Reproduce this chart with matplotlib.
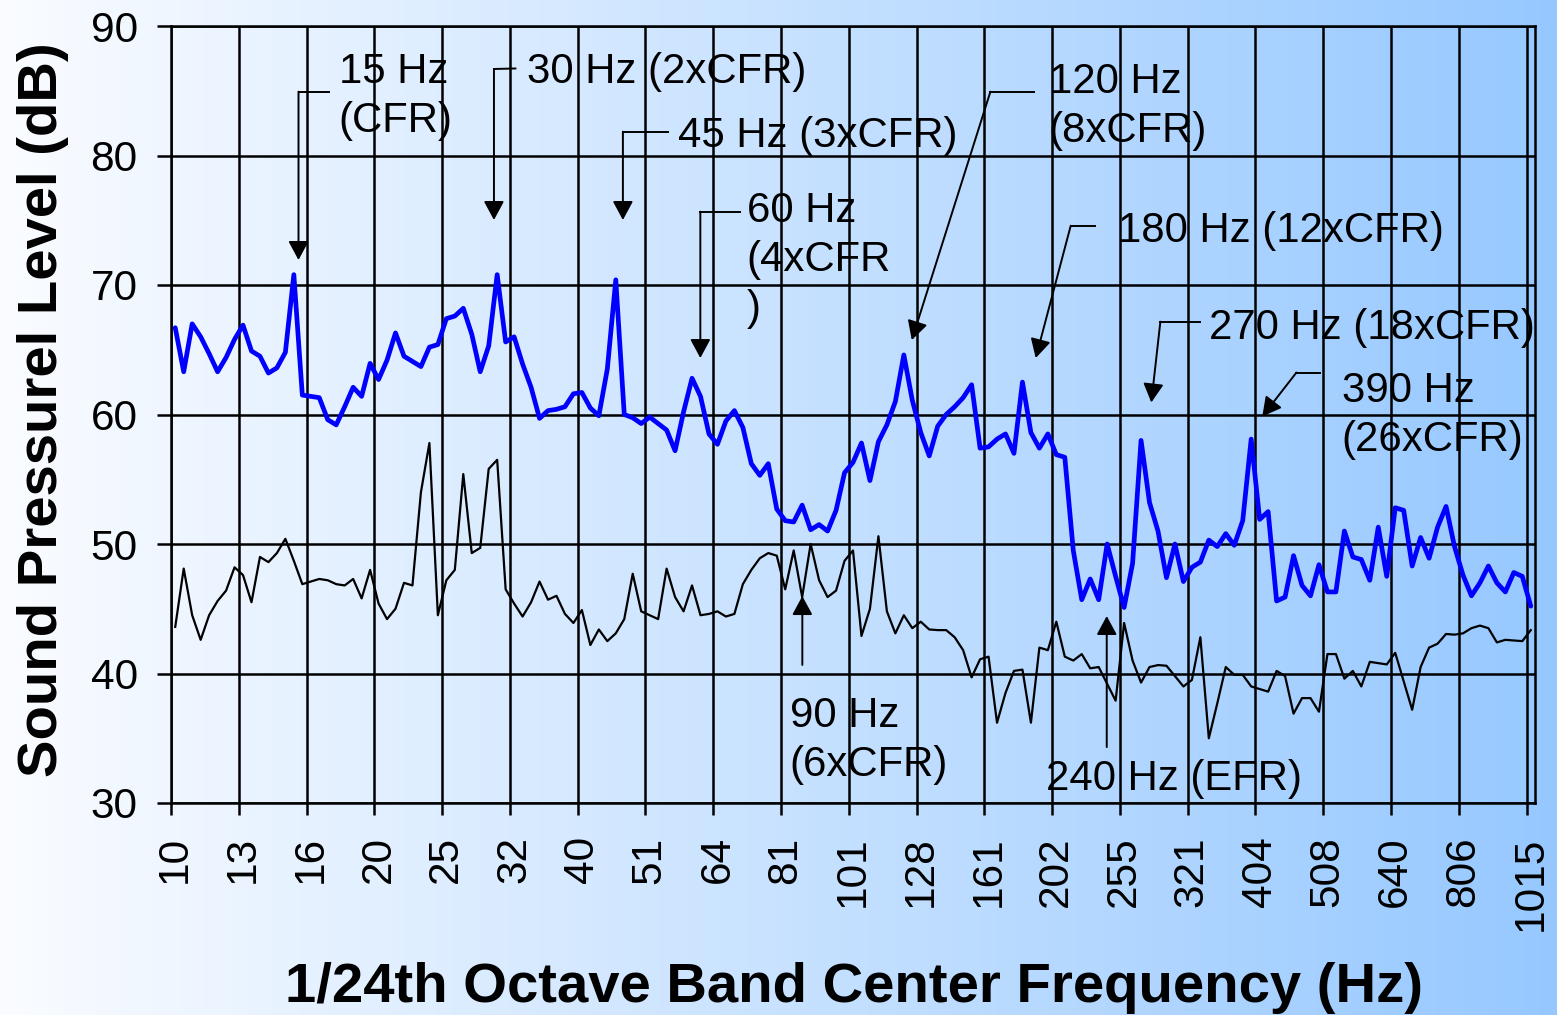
import numpy as np
import matplotlib
matplotlib.use("Agg")
import matplotlib.pyplot as plt

plt.rcParams['font.family'] = ['Liberation Sans', 'DejaVu Sans']

# ---------------- data (1/24 octave bands, 10 Hz ... 1015 Hz) ----------------
tick_labels = ['10', '13', '16', '20', '25', '32', '40', '51', '64', '81', '101',
               '128', '161', '202', '255', '321', '404', '508', '640', '806', '1015']

upper_db = [66.7, 63.3, 67.0, 66.0, 64.7, 63.3, 64.4, 65.8, 66.9, 64.9,
            64.5, 63.2, 63.6, 64.8, 70.8, 61.5, 61.4, 61.3, 59.6, 59.2,
            60.6, 62.1, 61.4, 63.95, 62.7, 64.2, 66.3, 64.5, 64.1, 63.7,
            65.2, 65.4, 67.4, 67.6, 68.2, 66.2, 63.3, 65.3, 70.8, 65.6,
            66.0, 63.9, 62.1, 59.7, 60.3, 60.4, 60.6, 61.6, 61.7, 60.5,
            59.9, 63.5, 70.4, 60.0, 59.75, 59.3, 59.8, 59.3, 58.8, 57.2,
            60.2, 62.8, 61.4, 58.5, 57.7, 59.5, 60.3, 59.0, 56.2, 55.3,
            56.2, 52.7, 51.8, 51.7, 53.0, 51.1, 51.5, 51.0, 52.6, 55.5,
            56.3, 57.8, 54.9, 57.9, 59.2, 61.0, 64.6, 61.1, 58.6, 56.8,
            59.1, 60.0, 60.6, 61.3, 62.3, 57.4, 57.5, 58.1, 58.5, 57.0,
            62.5, 58.6, 57.4, 58.5, 56.9, 56.7, 49.5, 45.7, 47.3, 45.7,
            50.0, 47.5, 45.1, 48.5, 58.0, 53.2, 51.0, 47.4, 50.0, 47.1,
            48.2, 48.6, 50.3, 49.8, 50.8, 49.9, 51.8, 58.1, 51.9, 52.5,
            45.6, 45.9, 49.1, 46.8, 46.0, 48.4, 46.3, 46.3, 51.0, 49.0,
            48.8, 47.2, 51.3, 47.5, 52.8, 52.6, 48.3, 50.5, 48.9, 51.3,
            52.9, 49.8, 47.6, 46.0, 47.0, 48.3, 47.0, 46.3, 47.8, 47.5,
            45.2]

lower_db = [43.6, 48.1, 44.5, 42.6, 44.5, 45.6, 46.4, 48.2, 47.6, 45.5,
            49.0, 48.6, 49.3, 50.4, 48.7, 46.9, 47.1, 47.3, 47.2, 46.9,
            46.8, 47.3, 45.8, 48.0, 45.4, 44.2, 45.0, 47.0, 46.8, 54.0,
            57.8, 44.5, 47.2, 48.0, 55.4, 49.3, 49.7, 55.8, 56.5, 46.5,
            45.4, 44.4, 45.5, 47.1, 45.7, 46.0, 44.6, 43.9, 44.9, 42.2,
            43.4, 42.5, 43.1, 44.2, 47.7, 44.8, 44.5, 44.2, 48.1, 45.9,
            44.8, 46.8, 44.5, 44.6, 44.8, 44.4, 44.6, 46.9, 48.0, 48.9,
            49.3, 49.1, 46.5, 49.5, 45.9, 50.0, 47.2, 45.9, 46.4, 48.7,
            49.5, 42.9, 45.0, 50.6, 44.8, 43.1, 44.5, 43.5, 44.0, 43.4,
            43.35, 43.35, 42.8, 41.8, 39.7, 41.1, 41.3, 36.2, 38.5, 40.2,
            40.3, 36.2, 42.0, 41.8, 44.0, 41.3, 41.0, 41.5, 40.4, 40.5,
            39.2, 37.9, 43.9, 41.0, 39.3, 40.5, 40.65, 40.6, 39.8, 39.0,
            39.5, 42.8, 35.0, 37.7, 40.5, 39.9, 39.9, 39.0, 38.8, 38.6,
            40.2, 39.8, 36.9, 38.1, 38.1, 37.05, 41.5, 41.5, 39.6, 40.2,
            39.0, 40.9, 40.8, 40.7, 41.6, 39.4, 37.2, 40.5, 42.0, 42.3,
            43.05, 43.0, 43.1, 43.5, 43.7, 43.5, 42.4, 42.6, 42.55, 42.5,
            43.35]

y_ticks = [30, 40, 50, 60, 70, 80, 90]
bands_per_label = 8

x_title = '1/24th Octave Band Center Frequency (Hz)'
y_title = 'Sound Pressurel Level (dB)'

# annotations: text lines, text anchor (band, dB), leader path ending at arrow tip
notes = [
    (['15 Hz', '(CFR)'], (19.3, 85.58), [(18.1, 84.93), (14.55, 84.93), (14.55, 71.93)]),
    (['30 Hz (2xCFR)'], (41.5, 85.58), [(40.15, 86.72), (37.62, 86.68), (37.62, 75.02)]),
    (['45 Hz (3xCFR)'], (59.33, 80.66), [(58.15, 81.84), (52.84, 81.84), (52.84, 75.02)]),
    (['60 Hz', '(4xCFR', ')'], (67.47, 74.89), [(66.64, 75.66), (61.98, 75.66), (61.98, 64.36)]),
    (['120 Hz', '(8xCFR)'], (103.1, 84.83), [(101.38, 84.93), (96.22, 84.93), (86.94, 65.75)]),
    (['180 Hz (12xCFR)'], (111.24, 73.34), [(108.53, 74.58), (105.7, 74.58), (101.57, 64.36)]),
    (['270 Hz (18xCFR)'], (121.98, 65.83), [(120.99, 67.17), (116.28, 67.17), (115.21, 60.93)]),
    (['390 Hz', '(26xCFR)'], (137.68, 60.99), [(135.17, 63.24), (132.34, 63.24), (128.31, 59.85)]),
    (['90 Hz', '(6xCFR)'], (72.54, 35.87), [(74.02, 40.66), (74.02, 45.98)]),
    (['240 Hz (EFR)'], (102.75, 31.0), [(109.95, 34.32), (109.95, 44.44)]),
]

# ---------------- figure ----------------
W, H = 1557, 1015
fig = plt.figure(figsize=(W / 100, H / 100), dpi=100)

bg = fig.add_axes([0, 0, 1, 1], zorder=-10)
t = np.linspace(0, 1, 600)
c_left = np.array([250, 252, 255]) / 255.0
c_right = np.array([150, 200, 255]) / 255.0
grad = c_left[None, :] + (c_right - c_left)[None, :] * t[:, None]
bg.imshow(grad[None, :, :], aspect='auto', extent=[0, 1, 0, 1])
bg.set_axis_off()

ax = fig.add_axes([171 / W, (H - 803) / H, (1535 - 171) / W, (803 - 26) / H])
ax.patch.set_alpha(0)

n = len(upper_db)
x = np.arange(n)
ax.plot(x, lower_db, color='black', lw=1.6, zorder=3, solid_joinstyle='round')
ax.plot(x, upper_db, color='#0000FF', lw=3.4, zorder=4, solid_joinstyle='round',
        solid_capstyle='round')

ax.set_xlim(-0.5, n - 0.5)
ax.set_ylim(y_ticks[0], y_ticks[-1])

label_pos = np.arange(0, n, bands_per_label)
ax.set_xticks(label_pos - 0.5)
ax.set_xticklabels([])
ax.set_xticks(label_pos, minor=True)
ax.set_xticklabels(tick_labels, minor=True)
ax.set_yticks(y_ticks)
ax.set_yticklabels([str(v) for v in y_ticks])

ax.set_axisbelow(False)
ax.grid(True, which='major', color='black', lw=1.8)
ax.tick_params(axis='x', which='major', length=8.6, width=1.8, direction='out', color='black')
ax.tick_params(axis='x', which='minor', length=0, pad=24, labelsize=30.5, labelrotation=90)
ax.tick_params(axis='y', which='major', length=10, width=1.8, direction='out', pad=14,
               labelsize=30.5)
for s in ax.spines.values():
    s.set_color('black')
    s.set_linewidth(1.8)

line_step = 35.3  # points between text lines
for lines, (tx, ty), path in notes:
    for k, line in enumerate(lines):
        ax.annotate(line, xy=(tx, ty), xytext=(0, -k * line_step), textcoords='offset points',
                    fontsize=30.2, ha='left', va='baseline', zorder=1, annotation_clip=False)
    xs = [p[0] for p in path]
    ys = [p[1] for p in path]
    if len(path) > 2:
        ax.plot(xs[:-1], ys[:-1], color='black', lw=1.4, zorder=5, clip_on=False)
    ax.annotate('', xy=path[-1], xytext=path[-2],
                arrowprops=dict(arrowstyle='-|>,head_length=11.5,head_width=6.2',
                                mutation_scale=1, color='black', lw=1.4,
                                shrinkA=0, shrinkB=0),
                zorder=5, annotation_clip=False)

fig.text(56.7 / W, (H - 410) / H, y_title, rotation=90, rotation_mode='anchor',
         ha='center', va='baseline', fontsize=40.5, fontweight='bold')
fig.text(854 / W, (H - 1001.7) / H, x_title, ha='center', va='baseline',
         fontsize=40.5, fontweight='bold')

fig.savefig('out.png', dpi=100)
